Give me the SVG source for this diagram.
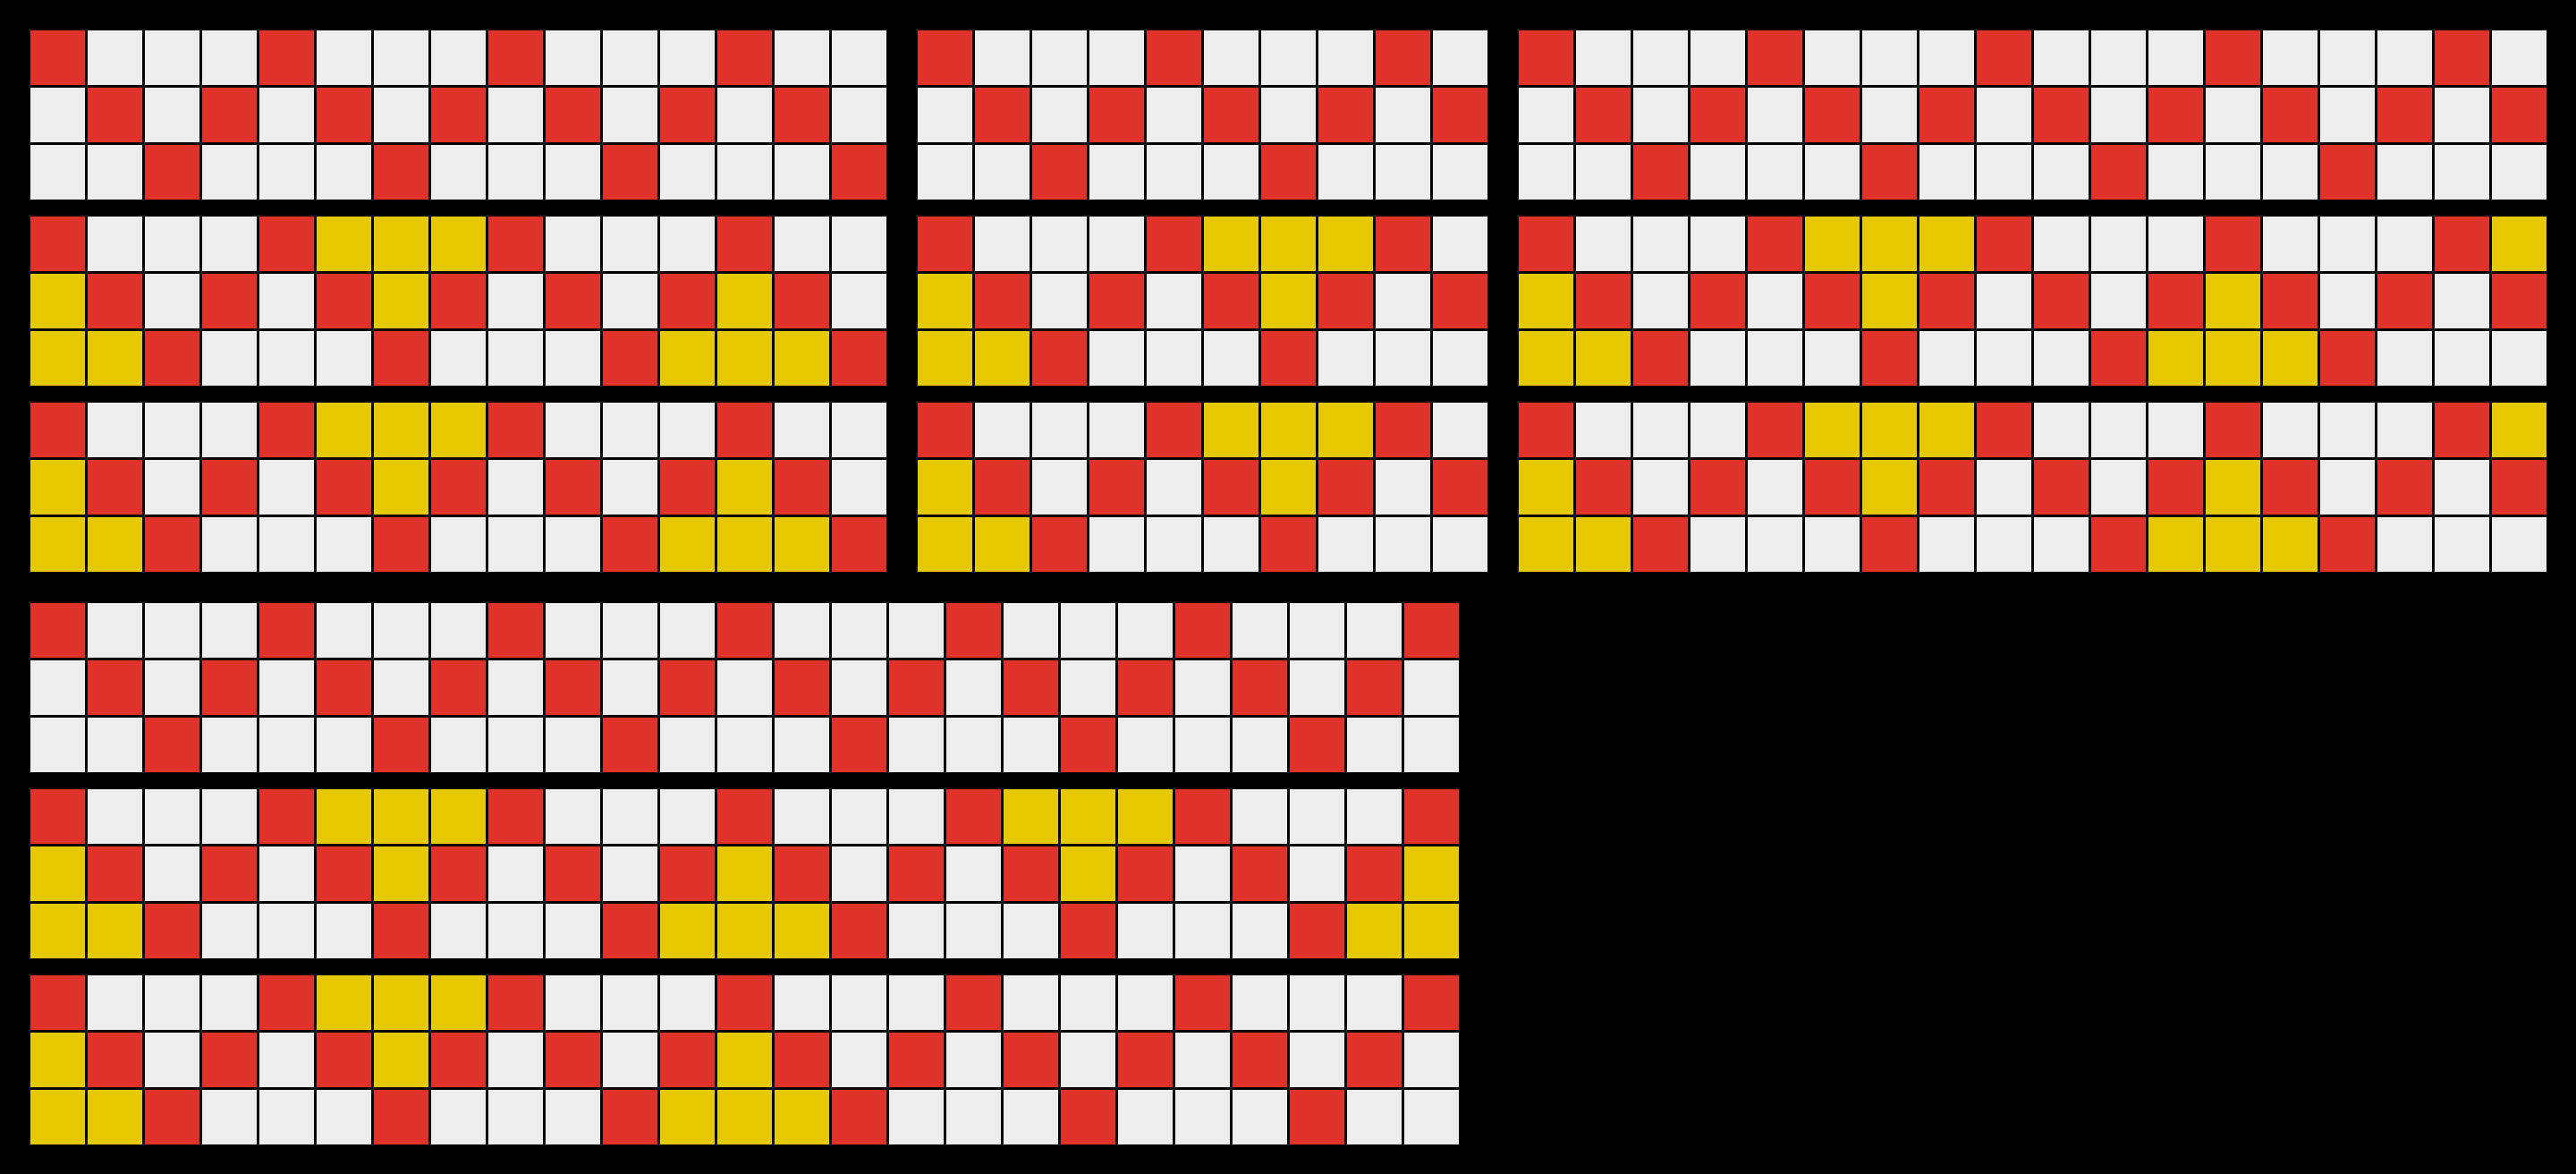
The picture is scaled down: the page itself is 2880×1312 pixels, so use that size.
<svg xmlns="http://www.w3.org/2000/svg" xmlns:xlink="http://www.w3.org/1999/xlink" width="2880" height="1312" viewBox="0 0 2880 1312">
<style>
.y{fill:#E6C800}
</style>
<defs>
<pattern id="cell" patternUnits="userSpaceOnUse" x="0" y="0" width="64" height="64">
<rect x="2" y="2" width="61" height="61" fill="#EEEEEE"/>
</pattern>
<pattern id="zig" patternUnits="userSpaceOnUse" x="0" y="0" width="256" height="192">
<rect x="2" y="2" width="61" height="61" fill="#DF3329"/>
<rect x="66" y="66" width="61" height="61" fill="#DF3329"/>
<rect x="130" y="130" width="61" height="61" fill="#DF3329"/>
<rect x="194" y="66" width="61" height="61" fill="#DF3329"/>
</pattern>
<g id="yA">
<rect class="y" x="322" y="2" width="61" height="61"/>
<rect class="y" x="386" y="2" width="61" height="61"/>
<rect class="y" x="450" y="2" width="61" height="61"/>
<rect class="y" x="2" y="66" width="61" height="61"/>
<rect class="y" x="386" y="66" width="61" height="61"/>
<rect class="y" x="2" y="130" width="61" height="61"/>
<rect class="y" x="66" y="130" width="61" height="61"/>
</g>
<g id="yB">
<rect class="y" x="770" y="66" width="61" height="61"/>
<rect class="y" x="706" y="130" width="61" height="61"/>
<rect class="y" x="770" y="130" width="61" height="61"/>
<rect class="y" x="834" y="130" width="61" height="61"/>
</g>
</defs>
<rect width="2880" height="1312" fill="#000"/>

<!-- Block 1: 15 columns -->
<g id="b1p1" transform="translate(32,32)">
<rect width="960" height="192" fill="url(#cell)"/><rect width="960" height="192" fill="url(#zig)"/>
</g>
<g id="b1p2" transform="translate(32,240)">
<rect width="960" height="192" fill="url(#cell)"/><rect width="960" height="192" fill="url(#zig)"/>
<use xlink:href="#yA" href="#yA"/><use xlink:href="#yB" href="#yB"/>
</g>
<g id="b1p3" transform="translate(32,448)">
<rect width="960" height="192" fill="url(#cell)"/><rect width="960" height="192" fill="url(#zig)"/>
<use xlink:href="#yA" href="#yA"/><use xlink:href="#yB" href="#yB"/>
</g>

<!-- Block 2: 10 columns -->
<g id="b2p1" transform="translate(1024,32)">
<rect width="640" height="192" fill="url(#cell)"/><rect width="640" height="192" fill="url(#zig)"/>
</g>
<g id="b2p2" transform="translate(1024,240)">
<rect width="640" height="192" fill="url(#cell)"/><rect width="640" height="192" fill="url(#zig)"/>
<use xlink:href="#yA" href="#yA"/>
</g>
<g id="b2p3" transform="translate(1024,448)">
<rect width="640" height="192" fill="url(#cell)"/><rect width="640" height="192" fill="url(#zig)"/>
<use xlink:href="#yA" href="#yA"/>
</g>

<!-- Block 3: 18 columns -->
<g id="b3p1" transform="translate(1696,32)">
<rect width="1152" height="192" fill="url(#cell)"/><rect width="1152" height="192" fill="url(#zig)"/>
</g>
<g id="b3p2" transform="translate(1696,240)">
<rect width="1152" height="192" fill="url(#cell)"/><rect width="1152" height="192" fill="url(#zig)"/>
<use xlink:href="#yA" href="#yA"/><use xlink:href="#yB" href="#yB"/>
<rect class="y" x="1090" y="2" width="61" height="61"/>
</g>
<g id="b3p3" transform="translate(1696,448)">
<rect width="1152" height="192" fill="url(#cell)"/><rect width="1152" height="192" fill="url(#zig)"/>
<use xlink:href="#yA" href="#yA"/><use xlink:href="#yB" href="#yB"/>
<rect class="y" x="1090" y="2" width="61" height="61"/>
</g>

<!-- Block 4: 25 columns -->
<g id="b4p1" transform="translate(32,672)">
<rect width="1600" height="192" fill="url(#cell)"/><rect width="1600" height="192" fill="url(#zig)"/>
</g>
<g id="b4p2" transform="translate(32,880)">
<rect width="1600" height="192" fill="url(#cell)"/><rect width="1600" height="192" fill="url(#zig)"/>
<use xlink:href="#yA" href="#yA"/><use xlink:href="#yB" href="#yB"/>
<rect class="y" x="1090" y="2" width="61" height="61"/>
<rect class="y" x="1154" y="2" width="61" height="61"/>
<rect class="y" x="1218" y="2" width="61" height="61"/>
<rect class="y" x="1154" y="66" width="61" height="61"/>
<rect class="y" x="1538" y="66" width="61" height="61"/>
<rect class="y" x="1474" y="130" width="61" height="61"/>
<rect class="y" x="1538" y="130" width="61" height="61"/>
</g>
<g id="b4p3" transform="translate(32,1088)">
<rect width="1600" height="192" fill="url(#cell)"/><rect width="1600" height="192" fill="url(#zig)"/>
<use xlink:href="#yA" href="#yA"/><use xlink:href="#yB" href="#yB"/>
</g>
</svg>
